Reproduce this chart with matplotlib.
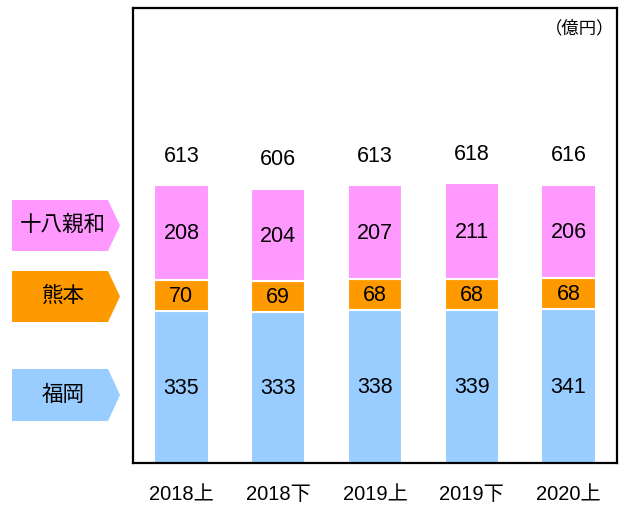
import numpy as np
import matplotlib
matplotlib.use('Agg')
import matplotlib.pyplot as plt
from matplotlib.patches import Polygon

plt.rcParams['font.family'] = ['Liberation Sans', 'Noto Sans CJK JP']

periods = ['2018上', '2018下', '2019上', '2019下', '2020上']
fukuoka = [335, 333, 338, 339, 341]
kumamoto = [70, 69, 68, 68, 68]
juhachi = [208, 204, 207, 211, 206]
totals = [613, 606, 613, 618, 616]

series = [('福岡', fukuoka, '#99CCFF'),
          ('熊本', kumamoto, '#FF9900'),
          ('十八親和', juhachi, '#FF99FF')]

W, H = 626, 507
fig = plt.figure(figsize=(W / 100, H / 100), dpi=100)
ax = fig.add_axes([133 / W, 1 - 463 / H, 484 / W, 455 / H])

x = np.arange(len(periods))
bottom = np.zeros(len(periods))
for name, vals, col in series:
    ax.bar(x, vals, 0.56, bottom=bottom, color=col, edgecolor='white', linewidth=1.5)
    for xi, b, v in zip(x, bottom, vals):
        ax.text(xi, b + v / 2 - 3, str(v), ha='center', va='center', fontsize=15.5)
    bottom += np.array(vals)

for xi, t in zip(x, totals):
    ax.text(xi, t + 64, str(t), ha='center', va='center', fontsize=15.5)

ax.set_xlim(-0.5, len(periods) - 0.5)
ax.set_ylim(0, 1005)
ax.set_yticks([])
ax.set_xticks(x)
ax.set_xticklabels(periods, fontsize=14.5)
ax.tick_params(axis='x', length=0, pad=16)
for s in ax.spines.values():
    s.set_linewidth(1.6)
ax.text(0.995, 0.975, '（億円）', transform=ax.transAxes, ha='right', va='top', fontsize=12.5)

# left side arrow-shaped labels
boxes = [('十八親和', '#FF99FF', 200, 251),
         ('熊本', '#FF9900', 271, 322),
         ('福岡', '#99CCFF', 369, 421)]
for name, col, top, bot in boxes:
    mid = (top + bot) / 2
    pts = [(12, top), (108, top), (120, mid), (108, bot), (12, bot)]
    pts = [(px / W, 1 - py / H) for px, py in pts]
    fig.patches.append(Polygon(pts, closed=True, facecolor=col, edgecolor='none',
                               transform=fig.transFigure))
    fig.text(63 / W, 1 - mid / H, name, ha='center', va='center', fontsize=15.5)

plt.savefig('out.png', dpi=100)
plt.close()
